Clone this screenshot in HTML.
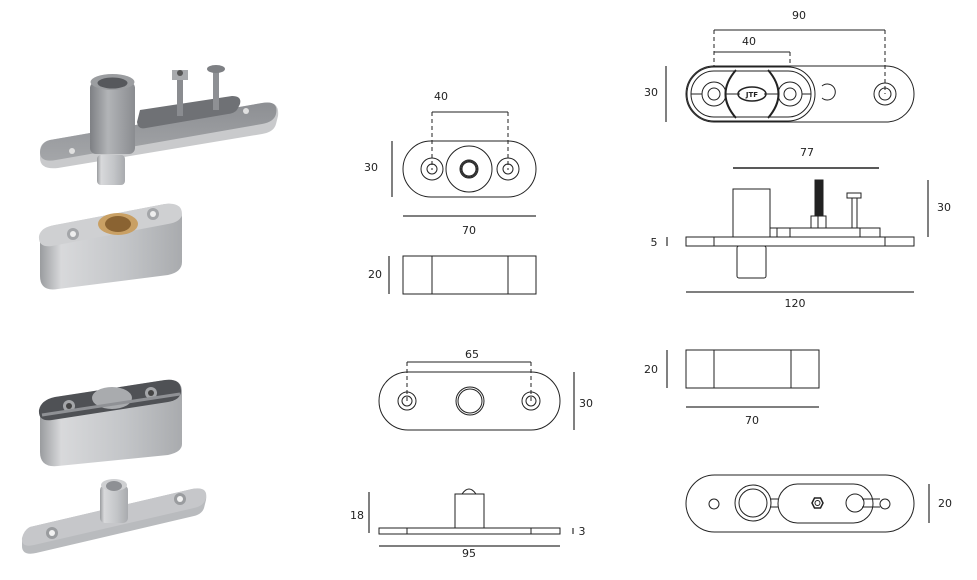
<!DOCTYPE html>
<html><head><meta charset="utf-8"><style>
html,body{margin:0;padding:0;background:#fff;}
svg{display:block;}
text{font-family:"DejaVu Sans","Liberation Sans",sans-serif;font-size:11px;fill:#222;}
</style></head><body>
<svg width="977" height="580" viewBox="0 0 977 580" xmlns="http://www.w3.org/2000/svg">
<defs>
<linearGradient id="met" x1="0" y1="0" x2="1" y2="0">
<stop offset="0" stop-color="#9a9c9f"/><stop offset="0.15" stop-color="#d8d9db"/><stop offset="0.6" stop-color="#c3c5c8"/><stop offset="1" stop-color="#a9abae"/></linearGradient>
<linearGradient id="tube" x1="0" y1="0" x2="1" y2="0">
<stop offset="0" stop-color="#7e8084"/><stop offset="0.4" stop-color="#b2b4b7"/><stop offset="1" stop-color="#8a8c90"/></linearGradient>
<linearGradient id="plateTop" x1="0" y1="0" x2="0" y2="1">
<stop offset="0" stop-color="#8d8f93"/><stop offset="1" stop-color="#a4a6a9"/></linearGradient>
</defs>

<!-- ===== 3D render 1: top plate with tube ===== -->
<g>
<path d="M50,140 L262,103 Q280,100 278,116 L276,124 Q274,132 262,134 L58,168 Q40,170 40,158 L40,150 Q41,142 50,140Z" fill="#c9cacc"/>
<path d="M50,140 L262,103 Q279,100 276,114 Q274,122 262,124 L56,160 Q40,163 40,152 Q41,142 50,140Z" fill="url(#plateTop)"/>
<rect x="97" y="155" width="28" height="30" rx="4" fill="url(#met)"/>
<path d="M140,110 L232,96 Q242,96 240,104 L238,108 Q236,113 228,114 L146,128 Q138,130 137,122Z" fill="#6f7175"/>
<rect x="90" y="82" width="45" height="72" rx="6" fill="url(#tube)"/>
<ellipse cx="112.5" cy="82" rx="22" ry="8" fill="#9b9da0"/>
<ellipse cx="112.5" cy="83" rx="15" ry="5.5" fill="#56585c"/>
<rect x="177" y="70" width="6" height="46" fill="#8a8c90"/>
<polygon points="172,70 188,70 188,80 172,80" fill="#a8aaad"/>
<circle cx="180" cy="73" r="3" fill="#555"/>
<rect x="213" y="70" width="6" height="40" fill="#8e9094"/>
<ellipse cx="216" cy="69" rx="9" ry="4" fill="#7e8084"/>
<circle cx="72" cy="151" r="3" fill="#e0e0e0"/>
<circle cx="246" cy="111" r="3" fill="#e0e0e0"/>
</g>

<!-- ===== 3D render 2: bearing block ===== -->
<g>
<path d="M55,225 L165,204 Q182,202 182,218 L182,262 Q182,272 168,275 L58,289 Q40,292 40,276 L40,240 Q40,228 55,225Z" fill="url(#met)"/>
<path d="M55,225 L165,204 Q182,202 182,214 Q181,222 168,224 L52,246 Q38,248 39,236 Q41,227 55,225Z" fill="#cfd0d2"/>
<ellipse cx="118" cy="224" rx="20" ry="11" fill="#c9a064"/>
<ellipse cx="118" cy="224" rx="13" ry="8" fill="#8a6332"/>
<circle cx="73" cy="234" r="6" fill="#a4a6a9"/><circle cx="73" cy="234" r="3" fill="#eee"/>
<circle cx="153" cy="214" r="6" fill="#a4a6a9"/><circle cx="153" cy="214" r="3" fill="#eee"/>
</g>

<!-- ===== 3D render 3: housing block ===== -->
<g>
<path d="M55,397 L165,380 Q182,378 182,392 L182,444 Q182,452 168,455 L58,466 Q40,468 40,452 L40,412 Q40,400 55,397Z" fill="url(#met)"/>
<path d="M55,397 L165,380 Q182,378 181,392 Q180,400 168,402 L52,420 Q38,422 39,410 Q41,400 55,397Z" fill="#4f5155"/>
<ellipse cx="112" cy="398" rx="20" ry="11" fill="#a9abae"/>
<circle cx="69" cy="406" r="6" fill="#a4a6a9"/><circle cx="69" cy="406" r="3" fill="#444"/>
<circle cx="151" cy="393" r="6" fill="#a4a6a9"/><circle cx="151" cy="393" r="3" fill="#444"/>
<path d="M42,415 L180,394" stroke="#8f9195" stroke-width="3"/>
</g>

<!-- ===== 3D render 4: bottom pivot plate ===== -->
<g>
<path d="M30,527 L192,489 Q208,486 206,500 L204,508 Q202,514 194,516 L36,553 Q22,556 22,546 L22,540 Q24,530 30,527Z" fill="#b9bbbe"/>
<path d="M30,527 L192,489 Q208,486 206,498 Q204,506 194,508 L34,545 Q21,548 22,538 Q24,530 30,527Z" fill="#c6c7ca"/>
<circle cx="52" cy="533" r="6" fill="#9a9c9f"/><circle cx="52" cy="533" r="3" fill="#f2f2f2"/>
<circle cx="180" cy="499" r="6" fill="#9a9c9f"/><circle cx="180" cy="499" r="3" fill="#f2f2f2"/>
<rect x="100" y="485" width="28" height="38" rx="5" fill="url(#met)"/>
<ellipse cx="114" cy="485" rx="13" ry="6" fill="#cfd0d2"/>
<ellipse cx="114" cy="486" rx="8" ry="5" fill="#8e9094"/>
</g>

<!-- ===== Middle column drawings ===== -->
<g fill="none" stroke="#222" stroke-width="1">
<!-- top view bearing -->
<line x1="432" y1="112" x2="508" y2="112"/>
<line x1="432" y1="112" x2="432" y2="170" stroke-dasharray="4,3"/>
<line x1="508" y1="112" x2="508" y2="170" stroke-dasharray="4,3"/>
<rect x="403" y="141" width="133" height="56" rx="28"/>
<circle cx="432" cy="169" r="11"/><circle cx="432" cy="169" r="5"/>
<circle cx="508" cy="169" r="11"/><circle cx="508" cy="169" r="5"/>
<circle cx="469" cy="169" r="23"/><circle cx="469" cy="169" r="9"/><circle cx="469" cy="169" r="7"/><circle cx="469" cy="169" r="8"/>
<line x1="392" y1="141" x2="392" y2="197" stroke="#555" stroke-width="1.5"/>
<line x1="403" y1="216" x2="536" y2="216" stroke="#555" stroke-width="1.5"/>
<!-- side bearing -->
<rect x="403" y="256" width="133" height="38"/>
<line x1="432" y1="256" x2="432" y2="294"/><line x1="508" y1="256" x2="508" y2="294"/>
<line x1="389" y1="256" x2="389" y2="294" stroke="#555" stroke-width="1.5"/>
<!-- top view pivot plate -->
<line x1="407" y1="362" x2="531" y2="362"/>
<line x1="407" y1="362" x2="407" y2="402" stroke-dasharray="4,3"/>
<line x1="531" y1="362" x2="531" y2="402" stroke-dasharray="4,3"/>
<rect x="379" y="372" width="181" height="58" rx="29"/>
<circle cx="407" cy="401" r="9"/><circle cx="407" cy="401" r="5"/>
<circle cx="531" cy="401" r="9"/><circle cx="531" cy="401" r="5"/>
<circle cx="470" cy="401" r="14"/><circle cx="470" cy="401" r="12"/>
<line x1="574" y1="372" x2="574" y2="430" stroke="#555" stroke-width="1.5"/>
<!-- side pivot plate -->
<rect x="379" y="528" width="181" height="6"/>
<line x1="407" y1="528" x2="407" y2="534"/><line x1="531" y1="528" x2="531" y2="534"/>
<rect x="455" y="494" width="29" height="34"/>
<path d="M462,494 Q469,484 476,494"/>
<line x1="369" y1="492" x2="369" y2="533" stroke="#555" stroke-width="1.5"/>
<line x1="573" y1="528" x2="573" y2="534" stroke="#555" stroke-width="1.5"/>
<line x1="379" y1="546" x2="560" y2="546" stroke="#555" stroke-width="1.5"/>
</g>
<text x="441" y="100" text-anchor="middle">40</text>
<text x="371" y="171" text-anchor="middle">30</text>
<text x="469" y="234" text-anchor="middle">70</text>
<text x="375" y="278" text-anchor="middle">20</text>
<text x="472" y="358" text-anchor="middle">65</text>
<text x="586" y="407" text-anchor="middle">30</text>
<text x="357" y="519" text-anchor="middle">18</text>
<text x="582" y="535" text-anchor="middle">3</text>
<text x="469" y="557" text-anchor="middle">95</text>

<!-- ===== Right column drawings ===== -->
<g fill="none" stroke="#222" stroke-width="1">
<!-- top view of top plate -->
<line x1="714" y1="30" x2="885" y2="30"/>
<line x1="714" y1="52" x2="790" y2="52"/>
<line x1="714" y1="30" x2="714" y2="94" stroke-dasharray="4,3"/>
<line x1="790" y1="52" x2="790" y2="94" stroke-dasharray="4,3"/>
<line x1="885" y1="30" x2="885" y2="94" stroke-dasharray="4,3"/>
<rect x="686" y="66" width="228" height="56" rx="28"/>
<path d="M822,86 a8,8 0 1 1 0,12" />
<rect x="687" y="67" width="128" height="54" rx="27" fill="#fff"/>
<rect x="691" y="71" width="120" height="46" rx="23"/>
<line x1="691" y1="94" x2="702" y2="94"/><line x1="726" y1="94" x2="740" y2="94"/>
<line x1="764" y1="94" x2="778" y2="94"/><line x1="802" y1="94" x2="811" y2="94"/>
<path d="M736,70 Q715,94 736,118" stroke-width="2"/>
<path d="M768,70 Q789,94 768,118" stroke-width="2"/>
<circle cx="714" cy="94" r="12"/><circle cx="714" cy="94" r="6"/>
<circle cx="790" cy="94" r="12"/><circle cx="790" cy="94" r="6"/>
<circle cx="885" cy="94" r="11"/><circle cx="885" cy="94" r="6"/>
<ellipse cx="752" cy="94" rx="14" ry="7" stroke-width="1.5"/>
<line x1="666" y1="66" x2="666" y2="122" stroke="#555" stroke-width="1.5"/>
<!-- side of top plate -->
<line x1="733" y1="168" x2="879" y2="168" stroke-width="1.5"/>
<rect x="686" y="237" width="228" height="9"/>
<line x1="714" y1="237" x2="714" y2="246"/><line x1="885" y1="237" x2="885" y2="246"/>
<rect x="733" y="189" width="37" height="48" fill="#fff"/>
<rect x="770" y="228" width="110" height="9"/>
<line x1="777" y1="228" x2="777" y2="237"/><line x1="790" y1="228" x2="790" y2="237"/><line x1="860" y1="228" x2="860" y2="237"/>
<rect x="737" y="246" width="29" height="32" rx="2"/>
<rect x="815" y="180" width="8" height="36" fill="#222"/>
<rect x="811" y="216" width="15" height="12" fill="#fff"/>
<line x1="818" y1="216" x2="818" y2="228"/>
<rect x="847" y="193" width="14" height="5"/>
<rect x="852" y="198" width="5" height="30"/>
<line x1="928" y1="180" x2="928" y2="237" stroke="#555" stroke-width="1.5"/>
<line x1="667" y1="237" x2="667" y2="246" stroke="#555" stroke-width="1.5"/>
<line x1="686" y1="292" x2="914" y2="292" stroke="#555" stroke-width="1.5"/>
<!-- side of housing -->
<rect x="686" y="350" width="133" height="38"/>
<line x1="714" y1="350" x2="714" y2="388"/><line x1="791" y1="350" x2="791" y2="388"/>
<line x1="667" y1="350" x2="667" y2="388" stroke="#555" stroke-width="1.5"/>
<line x1="686" y1="407" x2="819" y2="407" stroke="#555" stroke-width="1.5"/>
<!-- bottom view -->
<rect x="686" y="475" width="228" height="57" rx="28.5"/>
<circle cx="714" cy="504" r="5"/><circle cx="885" cy="504" r="5"/>
<circle cx="753" cy="503" r="18"/><circle cx="753" cy="503" r="14"/>
<rect x="778" y="484" width="95" height="39" rx="19.5"/>
<line x1="770" y1="499" x2="778" y2="499"/><line x1="770" y1="507" x2="778" y2="507"/>
<circle cx="855" cy="503" r="9"/>
<line x1="862" y1="499" x2="880" y2="499"/><line x1="862" y1="507" x2="880" y2="507"/>
<polygon points="812,503 814.5,498 820.5,498 823,503 820.5,508 814.5,508" stroke-width="1.5"/>
<circle cx="817.5" cy="503" r="2.5"/>
<line x1="929" y1="484" x2="929" y2="523" stroke="#555" stroke-width="1.5"/>
</g>
<text x="799" y="19" text-anchor="middle">90</text>
<text x="749" y="45" text-anchor="middle">40</text>
<text x="651" y="96" text-anchor="middle">30</text>
<text x="752" y="97" text-anchor="middle" style="font-size:7px;font-weight:bold">JTF</text>
<text x="807" y="156" text-anchor="middle">77</text>
<text x="944" y="211" text-anchor="middle">30</text>
<text x="654" y="246" text-anchor="middle">5</text>
<text x="795" y="307" text-anchor="middle">120</text>
<text x="651" y="373" text-anchor="middle">20</text>
<text x="752" y="424" text-anchor="middle">70</text>
<text x="945" y="507" text-anchor="middle">20</text>
</svg>
</body></html>
